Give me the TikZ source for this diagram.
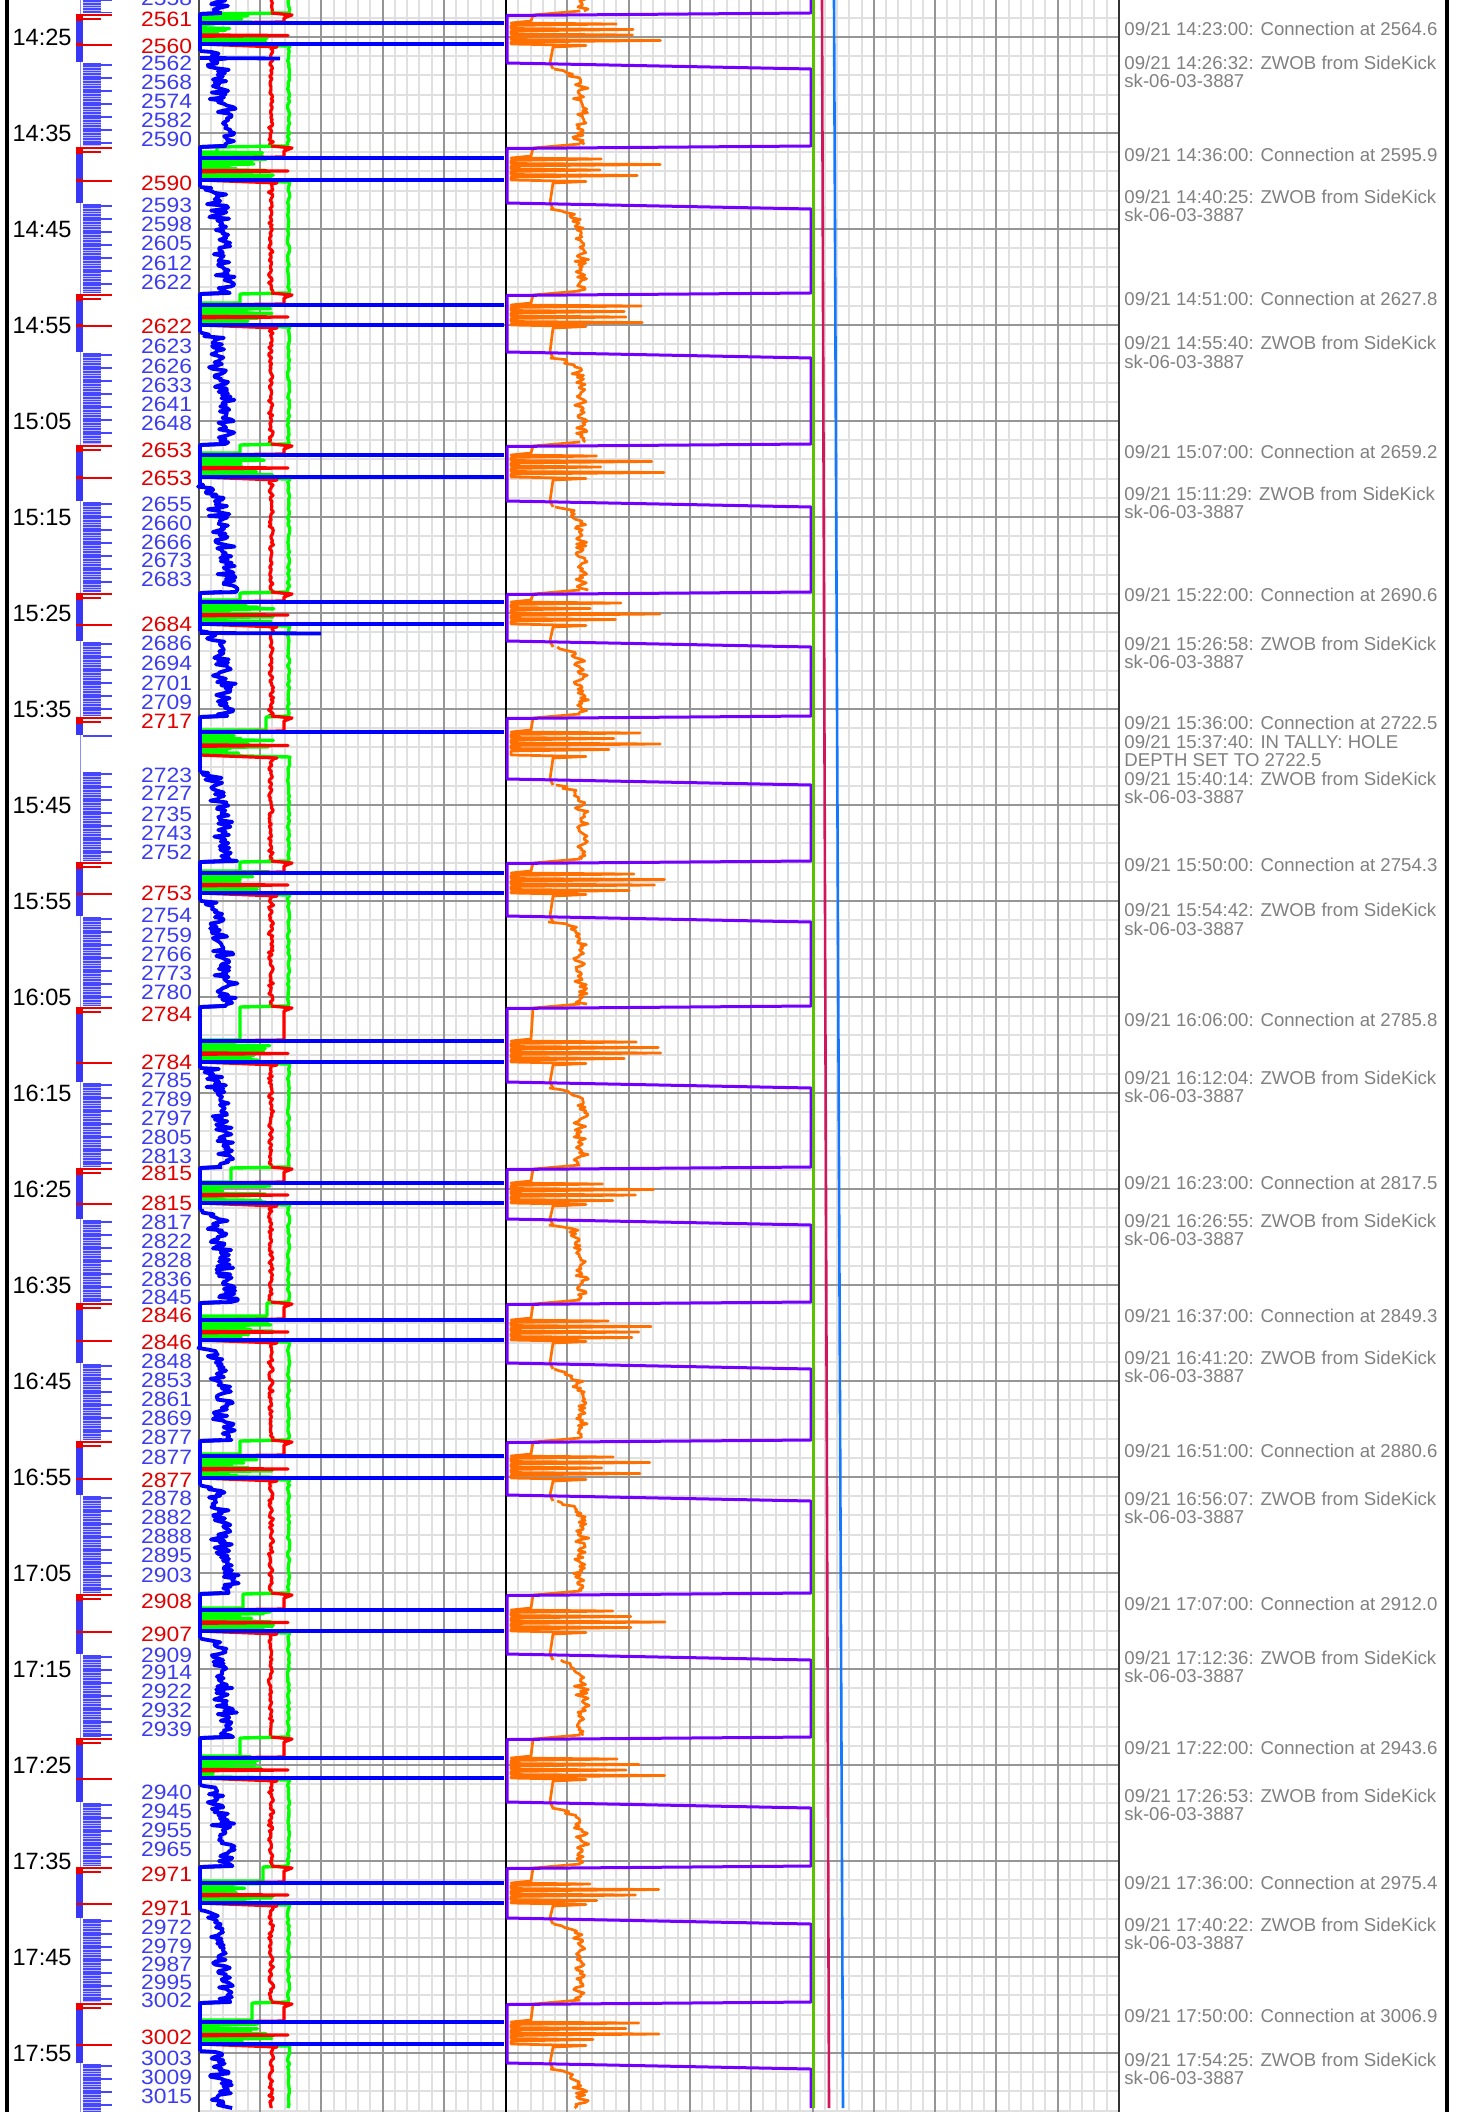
\documentclass[tikz,border=0pt]{standalone}
\usepackage{fontspec}
\setmainfont{Liberation Sans}
\newfontfamily\dfont[FakeStretch=1.1]{Liberation Sans}
\definecolor{gmin}{RGB}{224,224,224}
\definecolor{gmaj}{RGB}{150,150,150}
\definecolor{cblue}{RGB}{0,0,255}
\definecolor{cred}{RGB}{255,0,0}
\definecolor{cgreen}{RGB}{0,255,0}
\definecolor{corange}{RGB}{255,112,0}
\definecolor{cpurple}{RGB}{115,0,255}
\definecolor{vgreen}{RGB}{90,195,0}
\definecolor{vred}{RGB}{210,20,90}
\definecolor{vblue}{RGB}{20,120,255}
\definecolor{lblue}{RGB}{60,60,240}
\definecolor{lred}{RGB}{225,0,0}
\definecolor{tgray}{RGB}{128,128,128}
\definecolor{tickblue}{RGB}{70,70,255}
\definecolor{ticklight}{RGB}{185,185,255}
\definecolor{thinblue}{RGB}{140,140,255}
\definecolor{blockblue}{RGB}{55,55,245}
\definecolor{blockred}{RGB}{235,0,0}
\tikzset{
 gminor/.style={gmin, line width=1pt},
 gmajor/.style={gmaj, line width=1pt},
 bcurve/.style={cblue, line width=1.9pt, line join=round},
 bthick/.style={cblue, line width=2.3pt},
 rcurve/.style={cred, line width=1.6pt, line join=round},
 gcurve/.style={cgreen, line width=1.7pt, line join=round},
 ocurve/.style={corange, line width=1.35pt, line join=round},
 pcurve/.style={cpurple, line width=1.5pt, line join=round},
 redtick/.style={blockred, line width=0.8pt},
 tlab/.style={anchor=base east, inner sep=0pt, font=\fontsize{11.8}{12}\selectfont},
 dlabB/.style={anchor=base east, inner sep=0pt, text=lblue, font=\dfont\fontsize{10.4}{11}\selectfont},
 dlabR/.style={dlabB, text=lred},
 ann/.style={anchor=base west, inner sep=0pt, text=tgray, font=\fontsize{9.3}{10}\selectfont},
}
\newcommand\drillB[3]{%
 \pgfmathtruncatemacro\ns{max(3,(#2-#1)/1.6)}%
 \draw[bcurve] (200,#1) -- plot[variable=\t,domain=#1+1:#2,samples=\ns] ({217+11*(\t-(#1))/(#2-(#1))+7*rand+6*rand-#3*exp(-(\t-(#1))/5)},\t) -- (200,{#2+1});}
\newcommand\drillR[2]{%
 \pgfmathtruncatemacro\ns{max(3,(#2-#1)/2)}%
 \draw[rcurve] plot[variable=\t,domain=#1:#2,samples=\ns] ({271+1.6*rand+1.3*rand},\t);}
\newcommand\drillG[2]{%
 \pgfmathtruncatemacro\ns{max(3,(#2-#1)/3)}%
 \draw[gcurve] plot[variable=\t,domain=#1:#2,samples=\ns] ({288.5+1.1*rand},\t);}
\newcommand\drillO[3]{%
 \pgfmathtruncatemacro\ns{max(3,(#2-#1)/1.7)}%
 \draw[ocurve] plot[variable=\t,domain=#1:#2,samples=\ns] ({581+4.5*rand+4*rand-#3*exp(-(\t-(#1))/5)},\t);}
\newcommand\tickseg[2]{%
 \fill[ticklight] (83,#1) rectangle (101,#2);
 \draw[tickblue, line width=9pt, dash pattern=on 0.75pt off 0.55pt] (92,#1) -- (92,#2);
 \draw[tickblue, line width=14.5pt, dash pattern=on 0.8pt off 5.7pt] (97.5,{#1+1}) -- (97.5,#2);}
\newcommand\annline[3]{\node[ann] (#1) at (1124,{#2+6.4}) {#3};}
\begin{document}
\begin{tikzpicture}[x=0.5pt,y=-0.5pt]
\pgfmathsetseed{7}
\useasboundingbox (0,0) rectangle (1456,2112);
\fill[white] (0,0) rectangle (1456,2112);
\begin{scope}
\clip (0,0) rectangle (1456,2112);
% ---------- grid ----------
\foreach \k in {1,...,24} \draw[gminor] ({199+12.24*\k},0) -- ({199+12.24*\k},2112);
\foreach \k in {1,...,49} \draw[gminor] ({506+12.26*\k},0) -- ({506+12.26*\k},2112);
\foreach \k in {-1,...,108} \draw[gminor] (199,{37+19.2*\k}) -- (1119,{37+19.2*\k});
\foreach \k in {1,...,4} \draw[gmajor] ({199+61.2*\k},0) -- ({199+61.2*\k},2112);
\foreach \k in {1,...,9} \draw[gmajor] ({506+61.3*\k},0) -- ({506+61.3*\k},2112);
\foreach \k in {0,...,21} \draw[gmajor] (199,{37+96*\k}) -- (1119,{37+96*\k});
% ---------- borders ----------
\draw[line width=1.6pt] (7,0) -- (7,2112);
\draw[line width=1.6pt] (1447,0) -- (1447,2112);
\draw[black!70, line width=1pt] (199,0) -- (199,2112);
\draw[black, line width=1pt] (506,0) -- (506,2112);
\draw[black!80, line width=1.1pt] (1119,0) -- (1119,2112);
% ---------- left column ----------
\draw[thinblue, line width=0.85pt] (80.5,0) -- (80.5,2112);
\foreach \s/\e in {-2/13, 63/146, 204/293, 353/444, 502/592, 642/716, 772/861, 917/1006, 1083/1167, 1220/1302, 1364/1440, 1496/1593, 1655/1737, 1803/1866, 1919/2002, 2064/2112} {\tickseg{\s}{\e}}
\draw[tickblue, line width=0.8pt] (83,736) -- (112,736);
% ---------- drilling curves ----------
\foreach \s/\e in {-2/13, 48/146, 184/293, 329/444, 481/592, 628/716, 759/861, 897/1006, 1066/1167, 1207/1302, 1344/1440, 1482/1593, 1635/1737, 1782/1866, 1907/2002, 2048/2108} {\drillG{\s}{\e}}
\foreach \s/\e in {-2/13, 48/146, 184/293, 329/444, 481/592, 628/716, 759/861, 897/1006, 1066/1167, 1207/1302, 1344/1440, 1482/1593, 1635/1737, 1782/1866, 1907/2002, 2048/2108} {\drillR{\s}{\e}}
% ---------- connections ----------
\foreach \yA/\yB/\yC/\yE/\yR/\yW/\xg/\yK/\bt in {
14/23/44/63/51/15/203/62/1,
147/158/180/203/187/152/217/203/1,
294/305/325/352/332/303/240/352/1,
445/455/477/501/484/453/240/501/1,
593/602/624/641/631/600/240/641/1,
717/732/755/779/772/730/266/735/0,
862/873/893/916/900/871/240/916/1,
1007/1041/1062/1082/1068/1040/240/1082/1,
1168/1183/1203/1219/1210/1182/231/1219/1,
1303/1320/1340/1363/1347/1316/267/1363/1,
1441/1456/1478/1495/1485/1454/240/1495/1,
1594/1610/1631/1654/1638/1608/243/1654/1,
1738/1758/1778/1802/1785/1756/240/1802/1,
1867/1883/1903/1918/1910/1881/263/1918/1,
2003/2022/2044/2063/2051/2020/252/2063/1} {
 % left column block
 \fill[blockblue] (76,\yA) rectangle (83,\yK);
 \fill[blockred] (76,\yA) rectangle (83,{\yA+7});
 \draw[redtick] (83,{\yA+1}) -- (112,{\yA+1});
 \draw[redtick] (83,{\yA+5}) -- (101,{\yA+5});
 \ifnum\bt=1
  \fill[blockred] (76,{\yC-0.5}) rectangle (83,{\yC+2});
  \draw[redtick] (83,{\yC+1}) -- (112,{\yC+1});
 \fi
 % green
 \pgfmathsetmacro\yWs{\yW+1.6}
 \pgfmathsetmacro\yCm{\yC-1}
 \draw[gcurve] (288,{\yA-1}) -- (\xg,\yA) -- (\xg,\yW)
   foreach \t in {\yW,\yWs,...,\yCm} { -- (200,\t) -- ({204+70*rnd},{\t+0.8}) }
   -- (200,\yC) -- (290,{\yC+2}) -- (288.5,{\yC+4});
 % red
 \pgfmathsetmacro\ym{(\yB+\yC)/2+2}
 \draw[rcurve] (271,{\yA-1}) -- (292,{\yA+1}) -- (284,{\yA+4}) -- (284,{\yB-1}) -- (200,\yB)
   -- (200,{\ym-0.6}) -- (288,\ym) -- (200,{\ym+0.8}) -- (200,\yC) -- (277,{\yC+3}) -- (271,{\yC+4});
 % blue
 \draw[bcurve] (222,{\yA-1}) -- (200,\yA) -- (200,\yR);
 \draw[bthick] (200,\yB) -- (504,\yB);
 \ifnum\bt=1 \draw[bthick] (200,\yC) -- (504,\yC); \fi
 % orange
 \pgfmathsetmacro\yBs{\yB+5.5}
 \pgfmathsetmacro\yCn{\yC-3}
 \draw[ocurve] (580,{\yA-3}) -- (533,{\yA+1}) -- (531,{\yB-2})
   foreach \t in {\yB,\yBs,...,\yCn} { -- (511,\t) -- ({590+75*rnd},{\t+1}) -- (511,{\t+2.5}) }
   -- (511,\yC) -- (586,{\yC+1.5}) -- (553,{\yC+3}) -- (550,\yE) -- (553,{\yE+6});
}
% blue drilling
\draw[bcurve] plot[variable=\t,domain=-3:13,samples=10] ({221+7*rand+6*rand},\t) -- (200,14);
\foreach \s/\e in {51/146, 187/293, 332/444, 484/592, 631/716, 772/861, 900/1006, 1068/1167, 1210/1302, 1347/1440, 1485/1593, 1638/1737, 1785/1866, 1910/2002} {\drillB{\s}{\e}{12}}
\draw[bcurve] (200,2051) -- plot[variable=\t,domain=2052:2108,samples=35] ({221+7*rand+6*rand-12*exp(-(\t-2051)/5)},\t);
\draw[bcurve] (200,58) -- (280,58.5);
\draw[bcurve] (200,633) -- (321,633.5);
% purple
\draw[pcurve] (811,0) foreach \yA/\yE in {14/63, 147/203, 294/352, 445/501, 593/641, 717/779, 862/916, 1007/1082, 1168/1219, 1303/1363, 1441/1495, 1594/1654, 1738/1802, 1867/1918, 2003/2063} { -- (811,{\yA-1}) -- (507,{\yA+1.5}) -- (507,\yE) -- (811,{\yE+6}) } -- (811,2108);
% orange drilling
\drillO{-3}{11}{0}
\foreach \s/\e in {69/144, 209/291, 358/442, 507/590, 647/714, 785/859, 922/1004, 1088/1165, 1225/1300, 1369/1438, 1501/1591, 1660/1735, 1808/1864, 1924/2000, 2069/2108} {\drillO{\s}{\e}{28}}
% vertical lines track 2
\draw[vgreen, line width=1.2pt] (813.5,0) -- (813.5,2108);
\draw[vred, line width=1.3pt] (822,0) -- (829,2108);
\draw[vblue, line width=1.3pt] (834,0) -- (843,2108);
% ---------- time labels ----------
\foreach \k/\tm in {0/14:25,1/14:35,2/14:45,3/14:55,4/15:05,5/15:15,6/15:25,7/15:35,8/15:45,9/15:55,10/16:05,11/16:15,12/16:25,13/16:35,14/16:45,15/16:55,16/17:05,17/17:15,18/17:25,19/17:35,20/17:45,21/17:55}
  \node[tlab] (t\k) at (72,{37+96*\k+8.8}) {\tm};
% ---------- depth labels ----------
\foreach \yy/\dd [count=\i] in {-2/2558, 63/2562, 82/2568, 101/2574, 120/2582, 139/2590, 205/2593, 224/2598, 243/2605, 263/2612, 282/2622, 346/2623, 366/2626, 385/2633, 404/2641, 423/2648, 504/2655, 523/2660, 542/2666, 560/2673, 579/2683, 643/2686, 663/2694, 683/2701, 702/2709, 775/2723, 793/2727, 814/2735, 833/2743, 852/2752, 915/2754, 935/2759, 954/2766, 973/2773, 992/2780, 1080/2785, 1099/2789, 1118/2797, 1137/2805, 1156/2813, 1222/2817, 1241/2822, 1260/2828, 1279/2836, 1297/2845, 1361/2848, 1380/2853, 1399/2861, 1418/2869, 1437/2877, 1457/2877, 1498/2878, 1517/2882, 1536/2888, 1555/2895, 1575/2903, 1655/2909, 1672/2914, 1691/2922, 1710/2932, 1729/2939, 1792/2940, 1811/2945, 1830/2955, 1849/2965, 1927/2972, 1946/2979, 1964/2987, 1982/2995, 2000/3002, 2058/3003, 2077/3009, 2096/3015}
  \node[dlabB] (db\i) at (192.5,{\yy+7.4}) {\dd};
\foreach \yy/\dd [count=\i] in {19/2561, 46/2560, 183/2590, 326/2622, 450/2653, 478/2653, 624/2684, 721/2717, 893/2753, 1014/2784, 1062/2784, 1173/2815, 1203/2815, 1315/2846, 1342/2846, 1480/2877, 1601/2908, 1634/2907, 1874/2971, 1908/2971, 2037/3002}
  \node[dlabR] (dr\i) at (192.5,{\yy+7.4}) {\dd};
% ---------- annotations ----------
\annline{a1}{29.6}{09/21 14:23:00: Connection at 2564.6}
\annline{a2}{63.3}{09/21 14:26:32: ZWOB from SideKick}
\annline{a2b}{81.6}{sk-06-03-3887}
\annline{a3}{155}{09/21 14:36:00: Connection at 2595.9}
\annline{a4}{197}{09/21 14:40:25: ZWOB from SideKick}
\annline{a4b}{215.3}{sk-06-03-3887}
\annline{a5}{299}{09/21 14:51:00: Connection at 2627.8}
\annline{a6}{343.5}{09/21 14:55:40: ZWOB from SideKick}
\annline{a6b}{361.8}{sk-06-03-3887}
\annline{a7}{452.6}{09/21 15:07:00: Connection at 2659.2}
\annline{a8}{494}{09/21 15:11:29: ZWOB from SideKick}
\annline{a8b}{512.3}{sk-06-03-3887}
\annline{a9}{595}{09/21 15:22:00: Connection at 2690.6}
\annline{a10}{644}{09/21 15:26:58: ZWOB from SideKick}
\annline{a10b}{662.3}{sk-06-03-3887}
\annline{a11}{723.5}{09/21 15:36:00: Connection at 2722.5}
\annline{a12}{742}{09/21 15:37:40: IN TALLY: HOLE}
\annline{a12b}{760.5}{DEPTH SET TO 2722.5}
\annline{a13}{779}{09/21 15:40:14: ZWOB from SideKick}
\annline{a13b}{797.5}{sk-06-03-3887}
\annline{a14}{865}{09/21 15:50:00: Connection at 2754.3}
\annline{a15}{910.5}{09/21 15:54:42: ZWOB from SideKick}
\annline{a15b}{928.8}{sk-06-03-3887}
\annline{a16}{1019.7}{09/21 16:06:00: Connection at 2785.8}
\annline{a17}{1077.6}{09/21 16:12:04: ZWOB from SideKick}
\annline{a17b}{1095.9}{sk-06-03-3887}
\annline{a18}{1183}{09/21 16:23:00: Connection at 2817.5}
\annline{a19}{1221}{09/21 16:26:55: ZWOB from SideKick}
\annline{a19b}{1239.3}{sk-06-03-3887}
\annline{a20}{1316}{09/21 16:37:00: Connection at 2849.3}
\annline{a21}{1358}{09/21 16:41:20: ZWOB from SideKick}
\annline{a21b}{1376.3}{sk-06-03-3887}
\annline{a22}{1450.7}{09/21 16:51:00: Connection at 2880.6}
\annline{a23}{1499}{09/21 16:56:07: ZWOB from SideKick}
\annline{a23b}{1517.3}{sk-06-03-3887}
\annline{a24}{1604}{09/21 17:07:00: Connection at 2912.0}
\annline{a25}{1658}{09/21 17:12:36: ZWOB from SideKick}
\annline{a25b}{1676.3}{sk-06-03-3887}
\annline{a26}{1748}{09/21 17:22:00: Connection at 2943.6}
\annline{a27}{1795.6}{09/21 17:26:53: ZWOB from SideKick}
\annline{a27b}{1813.9}{sk-06-03-3887}
\annline{a28}{1883}{09/21 17:36:00: Connection at 2975.4}
\annline{a29}{1925}{09/21 17:40:22: ZWOB from SideKick}
\annline{a29b}{1943.3}{sk-06-03-3887}
\annline{a30}{2016.5}{09/21 17:50:00: Connection at 3006.9}
\annline{a31}{2059.6}{09/21 17:54:25: ZWOB from SideKick}
\annline{a31b}{2077.9}{sk-06-03-3887}
\end{scope}
\end{tikzpicture}
\end{document}
